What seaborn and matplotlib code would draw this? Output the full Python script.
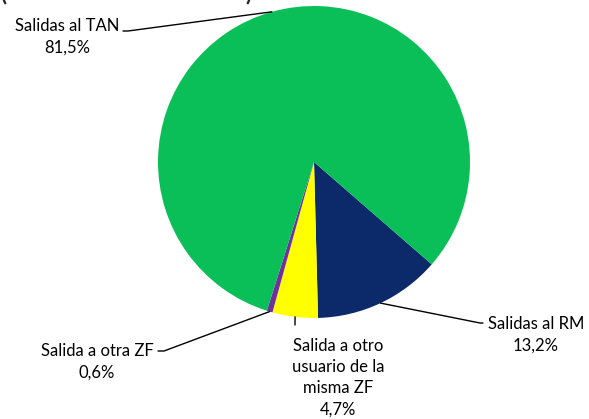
"""Pie chart of exits by destination"""
import matplotlib
matplotlib.use("Agg")
import matplotlib.pyplot as plt
import numpy as np
import seaborn as sns

# Data
labels = ["Salidas al RM", "Salida a otro\nusuario de la\nmisma ZF", "Salida a otra ZF", "Salidas al TAN"]
shares = [13.2, 4.7, 0.6, 81.5]
colors = ["#0C2A6A", "#FFFF00", "#7030A0", "#0BBF58"]

sns.set_theme(style="white")
plt.rcParams["font.family"] = ["Lato", "DejaVu Sans"]

W, H = 589, 419
fig = plt.figure(figsize=(W / 100, H / 100), dpi=100)

# pie centre and radius in pixels (from top-left)
cx, cy, r = 314, 162, 156
ax = fig.add_axes([(cx - r) / W, (H - cy - r) / H, 2 * r / W, 2 * r / H])
wedges, _ = ax.pie(shares, colors=colors, startangle=-41, counterclock=False,
                   radius=1, wedgeprops=dict(linewidth=0))
ax.set_xlim(-1, 1)
ax.set_ylim(-1, 1)
ax.set_aspect("equal")
ax.axis("off")


def px(x, y):
    # pixel position -> data coords of the pie axes
    return (x - cx) / r, (cy - y) / r


# label text position (centre x, top y) and leader line points in pixels
text_pos = [(536, 316), (338, 338), (97, 343), (67, 18)]
leader = [[(483, 323), (480, 323)],
          [(295, 325)],
          [(158, 351), (164, 351)],
          [(123, 31), (128, 31)]]

for w, lab, val, (tx, ty), pts in zip(wedges, labels, shares, text_pos, leader):
    mid = np.deg2rad((w.theta1 + w.theta2) / 2)
    xs = [px(*p)[0] for p in pts] + [np.cos(mid)]
    ys = [px(*p)[1] for p in pts] + [np.sin(mid)]
    ax.plot(xs, ys, color="black", lw=1, clip_on=False)
    txt = lab + "\n" + f"{val:.1f}%".replace(".", ",")
    ax.text(*px(tx, ty), txt, ha="center", va="top", fontsize=12,
            linespacing=1.4, color="black", multialignment="center")

# partly cut-off title at the top (cut off in the source as well)
fig.text(0 / W, 1.0, "(", fontsize=16, fontweight="bold", va="baseline", ha="left")
fig.text(245 / W, 1.0, ")", fontsize=16, fontweight="bold", va="baseline", ha="left")

fig.savefig("out.png", dpi=100)
